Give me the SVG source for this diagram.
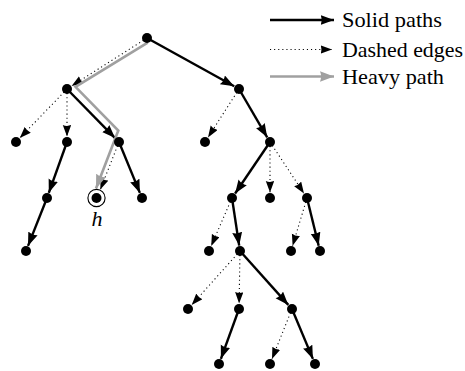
<svg xmlns="http://www.w3.org/2000/svg" width="465" height="371" viewBox="0 0 465 371">
  <style>
    .solid { stroke: #000; stroke-width: 2.4; fill: none; marker-end: url(#headSolid); }
    .dash { stroke: #000; stroke-width: 1.1; fill: none; stroke-dasharray: 1.1 3; marker-end: url(#headDash); }
    .heavy { stroke: #a0a0a0; stroke-width: 2.6; fill: none; stroke-linejoin: miter; marker-end: url(#headHeavy); }
    .node { fill: #000; }
    .label { font-family: "Liberation Serif", "DejaVu Serif", "Noto Serif", "Times New Roman", serif; font-size: 22px; fill: #000; }
    .math { font-family: "Liberation Serif", "DejaVu Serif", "Noto Serif", "Times New Roman", serif; font-style: italic; font-size: 22px; fill: #000; }
  </style>
  <defs>
    <marker id="headSolid" markerUnits="userSpaceOnUse" markerWidth="15" markerHeight="11" refX="13.5" refY="5" orient="auto">
      <path d="M0,0 L13.5,5 L0,10 Q2.2,5 0,0 z" fill="#000"/>
    </marker>
    <marker id="headDash" markerUnits="userSpaceOnUse" markerWidth="13" markerHeight="9" refX="11.5" refY="4.2" orient="auto">
      <path d="M0,0 L11.5,4.2 L0,8.4 Q1.8,4.2 0,0 z" fill="#000"/>
    </marker>
    <marker id="headHeavy" markerUnits="userSpaceOnUse" markerWidth="15" markerHeight="12" refX="14" refY="5.2" orient="auto">
      <path d="M0,0 L14,5.2 L0,10.4 Q2.2,5.2 0,0 z" fill="#a0a0a0"/>
    </marker>
  </defs>

  <!-- legend -->
  <g id="legend">
    <line class="solid" x1="270" y1="20" x2="334" y2="20"/>
    <text class="label" x="342" y="27" textLength="100" lengthAdjust="spacingAndGlyphs">Solid paths</text>
    <line class="dash" x1="270" y1="49.5" x2="332" y2="49.5"/>
    <text class="label" x="342" y="56.5" textLength="121" lengthAdjust="spacingAndGlyphs">Dashed edges</text>
    <line class="heavy" x1="270" y1="76.5" x2="334" y2="76.5"/>
    <text class="label" x="342" y="83.5" textLength="102" lengthAdjust="spacingAndGlyphs">Heavy path</text>
  </g>

  <!-- tree edges -->
  <g id="edges">
    <line class="dash" x1="147" y1="38" x2="71.6" y2="86"/>
    <line class="solid" x1="147" y1="38" x2="234.2" y2="86.3"/>
    <line class="dash" x1="67" y1="89" x2="19.8" y2="138"/>
    <line class="dash" x1="67" y1="89" x2="67" y2="136.5"/>
    <line class="solid" x1="67" y1="89" x2="115.1" y2="138.1"/>
    <line class="solid" x1="67" y1="142" x2="48.8" y2="192.8"/>
    <line class="solid" x1="47" y1="198" x2="28" y2="245.9"/>
    <line class="dash" x1="119" y1="142" x2="100.3" y2="189.6"/>
    <line class="solid" x1="119" y1="142" x2="139.9" y2="192.9"/>
    <line class="dash" x1="239" y1="89" x2="208" y2="137.4"/>
    <line class="solid" x1="239" y1="89" x2="267.2" y2="137.3"/>
    <line class="solid" x1="270" y1="142" x2="235.1" y2="193.5"/>
    <line class="dash" x1="270" y1="142" x2="270" y2="192.5"/>
    <line class="dash" x1="270" y1="142" x2="304" y2="193.4"/>
    <line class="dash" x1="232" y1="198" x2="211.2" y2="246"/>
    <line class="solid" x1="232" y1="198" x2="239.2" y2="245.6"/>
    <line class="dash" x1="307" y1="198" x2="292.6" y2="245.7"/>
    <line class="solid" x1="307" y1="198" x2="318.7" y2="245.7"/>
    <line class="dash" x1="240" y1="251" x2="191.7" y2="304.9"/>
    <line class="dash" x1="240" y1="251" x2="239.1" y2="303.5"/>
    <line class="solid" x1="240" y1="251" x2="288.3" y2="304.9"/>
    <line class="solid" x1="239" y1="309" x2="220.9" y2="358.8"/>
    <line class="dash" x1="292" y1="309" x2="272" y2="358.9"/>
    <line class="solid" x1="292" y1="309" x2="312.9" y2="358.9"/>
    <!-- heavy path from the root down to h -->
    <polyline class="heavy" points="147.7,42.7 75.5,86.8 118.3,130.5 96,188.5"/>
  </g>

  <!-- nodes -->
  <g id="nodes">
    <circle id="n-root" class="node" cx="147" cy="38" r="5"/>
    <circle id="n-a" class="node" cx="67" cy="89" r="5"/>
    <circle id="n-b" class="node" cx="239" cy="89" r="5"/>
    <circle id="n-a1" class="node" cx="16" cy="142" r="5"/>
    <circle id="n-a2" class="node" cx="67" cy="142" r="5"/>
    <circle id="n-c" class="node" cx="119" cy="142" r="5"/>
    <circle id="n-a2a" class="node" cx="47" cy="198" r="5"/>
    <circle id="n-a2b" class="node" cx="26" cy="251" r="5"/>
    <g id="n-h">
      <circle cx="96.5" cy="198" r="8.6" fill="none" stroke="#000" stroke-width="1.1"/>
      <circle class="node" cx="96.5" cy="198" r="5"/>
      <text class="math" x="97" y="226" text-anchor="middle">h</text>
    </g>
    <circle id="n-c2" class="node" cx="142" cy="198" r="5"/>
    <circle id="n-b1" class="node" cx="205" cy="142" r="5"/>
    <circle id="n-d" class="node" cx="270" cy="142" r="5"/>
    <circle id="n-e" class="node" cx="232" cy="198" r="5"/>
    <circle id="n-d2" class="node" cx="270" cy="198" r="5"/>
    <circle id="n-f" class="node" cx="307" cy="198" r="5"/>
    <circle id="n-e1" class="node" cx="209" cy="251" r="5"/>
    <circle id="n-g" class="node" cx="240" cy="251" r="5"/>
    <circle id="n-f1" class="node" cx="291" cy="251" r="5"/>
    <circle id="n-f2" class="node" cx="320" cy="251" r="5"/>
    <circle id="n-g1" class="node" cx="188" cy="309" r="5"/>
    <circle id="n-g2" class="node" cx="239" cy="309" r="5"/>
    <circle id="n-h2" class="node" cx="292" cy="309" r="5"/>
    <circle id="n-g2a" class="node" cx="219" cy="364" r="5"/>
    <circle id="n-h2a" class="node" cx="270" cy="364" r="5"/>
    <circle id="n-h2b" class="node" cx="315" cy="364" r="5"/>
  </g>
</svg>
